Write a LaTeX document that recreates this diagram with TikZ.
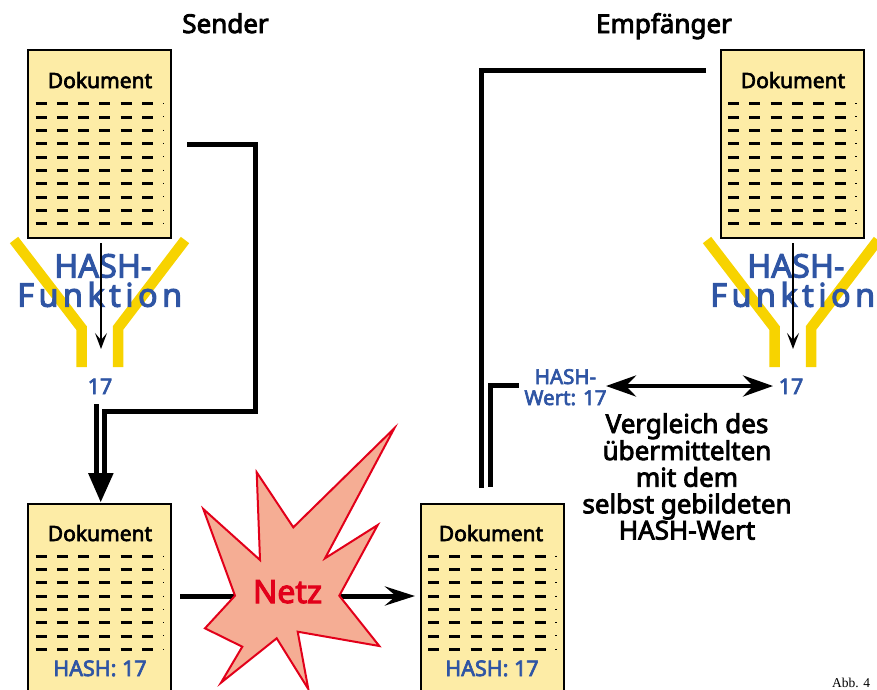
\documentclass[tikz,border=0pt]{standalone}
\usepackage{fontspec}
\setmainfont{Noto Sans}[RawFeature={embolden=3.2}]
\newfontfamily\captionserif{Liberation Serif}
\usetikzlibrary{arrows.meta}
\definecolor{docfill}{HTML}{FDECA6}
\definecolor{hashblue}{HTML}{2F55A4}
\definecolor{funnelyellow}{HTML}{F7D300}
\definecolor{starfill}{HTML}{F5AD94}
\definecolor{starred}{HTML}{E2001A}
\newcommand{\dashrows}[3]{%
  \foreach \r in {1,...,#3}{
    \foreach \c in {0,...,5}{
      \draw[line width=3pt] ({#1+7.5+21.3*\c},{#2+54.2+13.33*(\r-1)}) -- ++(11,0);
    }
    \draw[line width=1.5pt,dash pattern=on 0.8pt off 5pt] ({#1+135.5},{#2+53.5+13.33*(\r-1)}) -- ++(0,2);
  }}
\tikzset{
  docbox/.style={draw=black,line width=2pt,fill=docfill,minimum width=143pt,anchor=north west,inner sep=0pt},
  doclabel/.style={font=\fontsize{21}{22}\selectfont,text=black,inner sep=0pt,anchor=base},
  hashlabel/.style={font=\fontsize{21.5}{22}\selectfont,text=hashblue,inner sep=0pt,anchor=base},
  wertlabel/.style={font=\fontsize{20.5}{21}\selectfont,text=hashblue,inner sep=0pt,anchor=base},
  bigblue/.style={font=\fontsize{32.5}{33}\selectfont,text=hashblue,inner sep=0pt,anchor=base west},
  heading/.style={font=\fontsize{26}{27}\selectfont,text=black,inner sep=0pt,anchor=base},
  funnel/.style={draw=funnelyellow,line width=10.5pt,line join=miter},
  conn/.style={draw=black,line width=5pt},
  thinarrow/.style={draw=black,line width=2pt,-{Stealth[length=16pt,width=12pt,inset=7pt]}},
  heavyarrow/.style={draw=black,line width=5pt,-{Stealth[length=30pt,width=19pt,inset=11pt]}},
  comment/.style={font=\fontsize{26}{27}\selectfont,text=black,inner sep=0pt,anchor=base}
}
\begin{document}
\begin{tikzpicture}[x=1pt,y=-1pt]
\useasboundingbox (0,0) rectangle (877,689);
% documents
\node[docbox,minimum height=188pt] (sdoc) at (27.3,49) {};
\node[docbox,minimum height=188pt] (rdoc) at (720,49) {};
\node[docbox,minimum height=200pt] (bdoc) at (27.3,502.5) {};
\node[docbox,minimum height=200pt] (mdoc) at (420,502.5) {};
\dashrows{28}{49.5}{10}
\dashrows{720.5}{49.5}{10}
\dashrows{28}{502}{8}
\dashrows{420.5}{502}{8}
\node[doclabel] (t1) at (100,88) {Dokument};
\node[doclabel] (t2) at (793,88) {Dokument};
\node[doclabel] (t3) at (100,541) {Dokument};
\node[doclabel] (t4) at (491,541) {Dokument};
\node[hashlabel] (t5) at (100,676) {HASH: 17};
\node[hashlabel] (t6) at (492,676) {HASH: 17};
\node[heading] (t7) at (225.5,33) {Sender};
\node[heading] (t8) at (664,33) {Empfänger};
% funnels
\draw[funnel] (14,240) -- (81.5,328) -- (81.5,367);
\draw[funnel] (185,240) -- (118,328) -- (118,367);
\draw[funnel] (707,240) -- (774.5,328) -- (774.5,367);
\draw[funnel] (878,240) -- (811,328) -- (811,367);
\node[bigblue] (b1) at (54,277.5) {HASH-};
\node[bigblue] (b2) at (747,277.5) {HASH-};
\node[bigblue] (f1) at (17,306.7) {\addfontfeature{LetterSpace=13.5}Funktion};
\node[bigblue] (f2) at (710,306.7) {\addfontfeature{LetterSpace=13.5}Funktion};
\coordinate (a1s) at (101,243);
\coordinate (a1e) at (101,349);
\coordinate (a2s) at (793,243);
\coordinate (a2e) at (793,349);
\draw[thinarrow] (a1s) -- (a1e);
\draw[thinarrow] (a2s) -- (a2e);
\node[hashlabel] (h1) at (100,394) {17};
\node[hashlabel] (h2) at (791,394) {17};
% sender connector
\coordinate (c1) at (187,144.5);
\coordinate (c2) at (255.5,144.5);
\coordinate (c3) at (255.5,411.5);
\coordinate (c4) at (104.5,411.5);
\coordinate (c5) at (104.5,480);
\coordinate (c6) at (96.7,404);
\coordinate (c7) at (96.7,480);
\coordinate (ctip) at (100.7,502);
\coordinate (cl) at (88,473);
\coordinate (cr) at (113.7,473);
\draw[conn] (c1) -- (c2) -- (c3) -- (c4) -- (c5);
\draw[conn] (c6) -- (c7);
\fill (cl) -- (cr) -- (ctip) -- cycle;
% receiver connectors
\coordinate (r1) at (706,70.5);
\coordinate (r2) at (481,70.5);
\coordinate (r3) at (481,488);
\coordinate (r4) at (518.5,385.5);
\coordinate (r5) at (490,385.5);
\coordinate (r6) at (490,487);
\draw[conn] (r1) -- (r2) -- (r3);
\draw[conn] (r4) -- (r5) -- (r6);
\node[wertlabel] (hw1) at (565.5,384) {HASH-};
\node[wertlabel] (hw2) at (565.5,405) {Wert: 17};
\coordinate (d1) at (606,386);
\coordinate (d2) at (773,386);
\draw[draw=black,line width=4.5pt,{Stealth[length=30pt,width=21pt,inset=10pt]}-{Stealth[length=30pt,width=21pt,inset=10pt]}] (d1) -- (d2);
\node[comment] (v1) at (687,433) {Vergleich des};
\node[comment] (v2) at (687,460) {übermittelten};
\node[comment] (v3) at (687,486.7) {mit dem};
\node[comment] (v4) at (687,513.3) {selbst gebildeten};
\node[comment] (v5) at (687,539.5) {HASH-Wert};
% net
\coordinate (n1) at (180,596);
\coordinate (n2) at (415,596);
\draw[heavyarrow] (n1) -- (n2);
\draw[draw=starred,fill=starfill,line width=2pt,line join=miter]
 (394.3,428.3) -- (325,558.3) -- (377.7,525) -- (339.3,595.7) -- (379.3,646) -- (297.7,631.7) -- (308.3,689) -- (276.7,638.3) -- (221,682.7) -- (242.3,646.7) -- (205,628.3) -- (235,595.7) -- (203.3,509) -- (260,560) -- (256.7,472.3) -- (293.3,527.3) -- cycle;
\node[font=\fontsize{32}{33}\selectfont,text=starred,inner sep=0pt,anchor=base] (netz) at (287.5,603) {Netz};
\node[font=\captionserif\fontsize{13.5}{14}\selectfont,text=black,anchor=base west,inner sep=0pt] (abb) at (832,687.5) {Abb. 4};
\end{tikzpicture}
\end{document}
